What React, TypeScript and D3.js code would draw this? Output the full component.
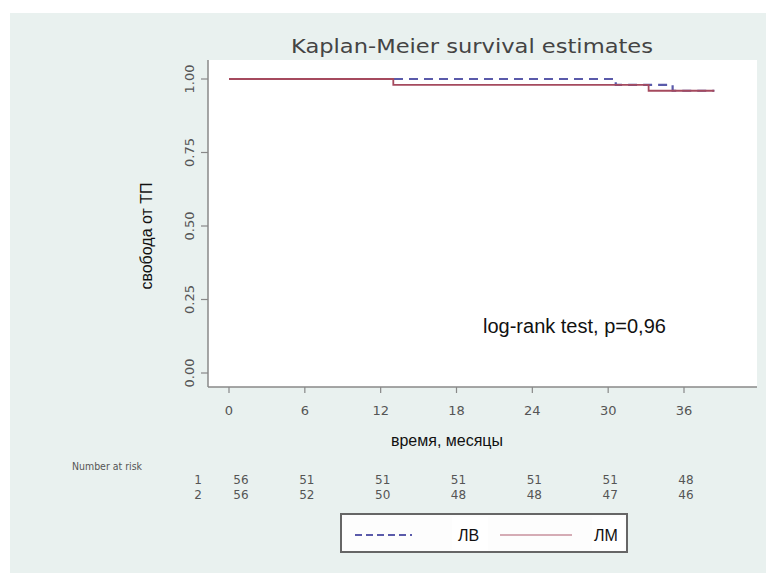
import * as d3 from "d3";
import React from "react";

// survival step points
const times1 = [0, 30.6, 35.1, 38.4];
const surv1 = [1, 0.98, 0.96, 0.96];
const times2 = [0, 13, 33.2, 38.4];
const surv2 = [1, 0.98, 0.96, 0.96];

const xTicks = [0, 6, 12, 18, 24, 30, 36];
const yTicks = [0, 0.25, 0.5, 0.75, 1];
const yTickLabels = ["0.00", "0.25", "0.50", "0.75", "1.00"];

const riskTimes = [0, 6, 12, 18, 24, 30, 36];
const atRisk1 = [56, 51, 51, 51, 51, 51, 48];
const atRisk2 = [56, 52, 50, 48, 48, 47, 46];

const seriesNames = ["ЛВ", "ЛМ"];

const W = 766;
const H = 573;
const bg = "#e9f1ef";
const blue = "#5a5aaa";
const red = "#a54a5e";
const stataFont = "'DejaVu Sans', sans-serif";
const addFont = "'Liberation Sans', Arial, sans-serif";

export default function App() {
  const x = d3.scaleLinear().domain([0, 36]).range([229, 684]);
  const y = d3.scaleLinear().domain([0, 1]).range([373, 79]);

  const plotLeft = 208;
  const plotRight = 757;
  const plotTop = 60;
  const plotBottom = 387;

  const line = d3
    .line<[number, number]>()
    .x((d) => x(d[0]))
    .y((d) => y(d[1]))
    .curve(d3.curveStepAfter);

  const path1 = line(times1.map((t, i) => [t, surv1[i]]))!;
  const path2 = line(times2.map((t, i) => [t, surv2[i]]))!;

  return (
    <svg
      width={W}
      height={H}
      style={{ position: "absolute", left: 0, top: 0, background: "#fff" }}
    >
      <rect x={10} y={13} width={W - 10} height={H - 13} fill={bg} />
      {/* plot region */}
      <rect
        x={plotLeft}
        y={plotTop}
        width={plotRight - plotLeft}
        height={plotBottom - plotTop}
        fill="#fff"
      />

      {/* title */}
      <text
        x={472}
        y={53}
        textAnchor="middle"
        fontFamily={stataFont}
        fontSize={19}
        fill="#444"
        textLength={362}
        lengthAdjust="spacingAndGlyphs"
      >
        Kaplan-Meier survival estimates
      </text>

      {/* curves: second group drawn on top */}
      <path
        d={path1}
        fill="none"
        stroke={blue}
        strokeWidth={2.2}
        strokeDasharray="9,6"
      />
      <path d={path2} fill="none" stroke={red} strokeWidth={1.8} />

      {/* axes */}
      <line x1={plotLeft} x2={plotLeft} y1={plotTop} y2={plotBottom} stroke="#888" strokeWidth={1.5} />
      <line x1={plotLeft} x2={plotRight} y1={plotBottom} y2={plotBottom} stroke="#888" strokeWidth={1.5} />

      {yTicks.map((t, i) => (
        <g key={"y" + t}>
          <line x1={plotLeft - 7} x2={plotLeft} y1={y(t)} y2={y(t)} stroke="#888" strokeWidth={1.2} />
          <text
            transform={`translate(189,${y(t)}) rotate(-90)`}
            textAnchor="middle"
            dominantBaseline="central"
            fontFamily={stataFont}
            fontSize={13}
            fill="#555"
          >
            {yTickLabels[i]}
          </text>
        </g>
      ))}

      {xTicks.map((t) => (
        <g key={"x" + t}>
          <line x1={x(t)} x2={x(t)} y1={plotBottom} y2={plotBottom + 6} stroke="#888" strokeWidth={1.2} />
          <text
            x={x(t)}
            y={410}
            textAnchor="middle"
            dominantBaseline="central"
            fontFamily={stataFont}
            fontSize={13}
            fill="#555"
          >
            {t}
          </text>
        </g>
      ))}

      {/* axis titles */}
      <text
        transform={`translate(152,236) rotate(-90)`}
        textAnchor="middle"
        fontFamily={addFont}
        fontSize={16}
        fill="#111"
      >
        свобода от ТП
      </text>
      <text x={447} y={446} textAnchor="middle" fontFamily={addFont} fontSize={16} fill="#111">
        время, месяцы
      </text>

      <text x={483} y={333} fontFamily={addFont} fontSize={20} fill="#111">
        log-rank test, p=0,96
      </text>

      {/* number at risk */}
      <text x={72} y={470} fontFamily={stataFont} fontSize={10.5} fill="#555" textLength={70} lengthAdjust="spacingAndGlyphs">
        Number at risk
      </text>
      {[atRisk1, atRisk2].map((row, r) => (
        <g key={"r" + r}>
          <text
            x={202}
            y={484 + r * 15}
            textAnchor="end"
            fontFamily={stataFont}
            fontSize={12}
            fill="#555"
          >
            {r + 1}
          </text>
          {row.map((n, i) => (
            <text
              key={i}
              x={x(riskTimes[i]) + (i === 0 ? 12 : 2)}
              y={484 + r * 15}
              textAnchor="middle"
              fontFamily={stataFont}
              fontSize={12}
              fill="#555"
            >
              {n}
            </text>
          ))}
        </g>
      ))}

      {/* legend */}
      <rect x={341} y={514} width={286} height={38} fill="#fdfdfd" stroke="#666" strokeWidth={2} />
      <line x1={355} x2={412} y1={535} y2={535} stroke={blue} strokeWidth={2} strokeDasharray="7,4" />
      <rect x={452} y={517} width={36} height={34} fill="#fff" />
      <text x={458} y={541} fontFamily={addFont} fontSize={16} fill="#111">
        {seriesNames[0]}
      </text>
      <line x1={500} x2={572} y1={535} y2={535} stroke={red} strokeWidth={1.5} opacity={0.6} />
      <rect x={592} y={517} width={32} height={34} fill="#fff" />
      <text x={594} y={541} fontFamily={addFont} fontSize={16} fill="#111">
        {seriesNames[1]}
      </text>
    </svg>
  );
}
